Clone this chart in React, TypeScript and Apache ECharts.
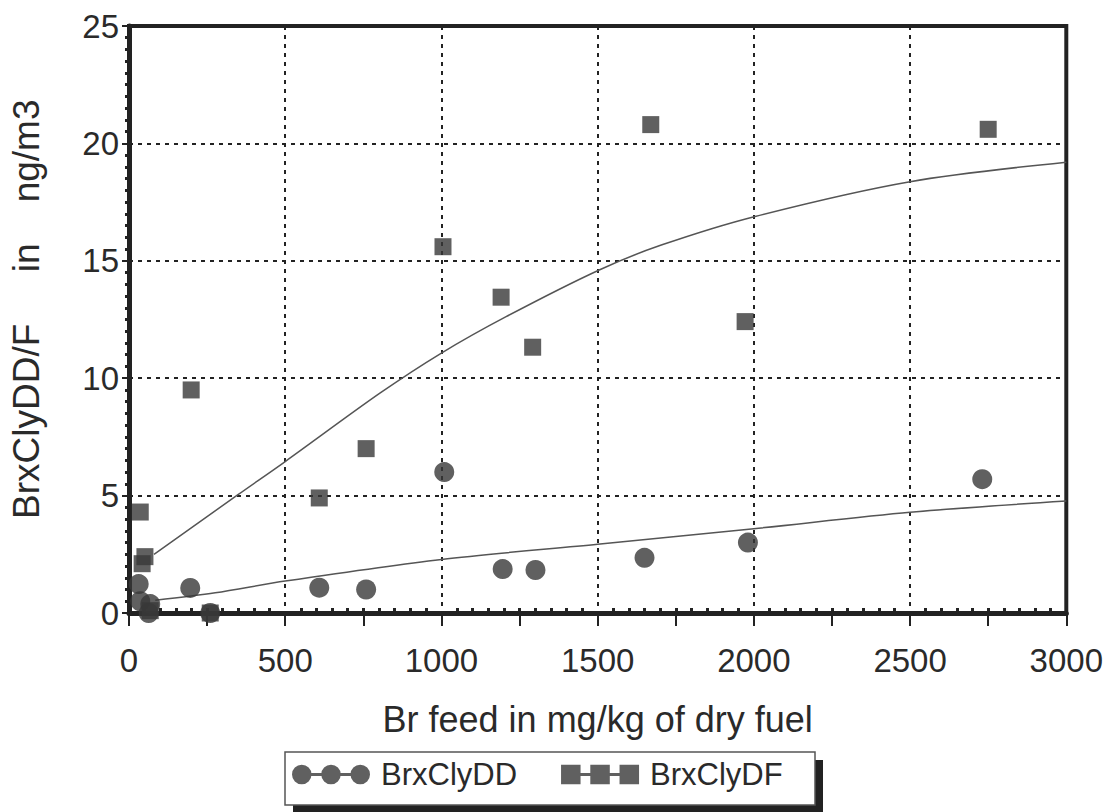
import React, { useEffect, useRef } from "react";
import * as echarts from "echarts";

// BrxClyDD (circles)
const ddX = [31, 36, 63, 68, 196, 260, 609, 759, 1009, 1196, 1301, 1650, 1981, 2731];
const ddY = [1.23, 0.5, 0.0, 0.38, 1.07, 0.0, 1.08, 1.0, 6.0, 1.87, 1.83, 2.35, 3.0, 5.7];
// BrxClyDF (squares)
const dfX = [36, 42, 51, 68, 199, 260, 609, 759, 1005, 1191, 1292, 1670, 1972, 2750];
const dfY = [4.3, 2.1, 2.4, 0.1, 9.5, 0.0, 4.9, 7.0, 15.6, 13.45, 11.32, 20.8, 12.41, 20.6];
// fitted curves
const ddFitX = [84, 276, 500, 1000, 1500, 2000, 2500, 3000];
const ddFitY = [0.54, 0.86, 1.36, 2.28, 2.93, 3.59, 4.29, 4.77];
const dfFitX = [80, 350, 500, 803, 1000, 1207, 1505, 1706, 2004, 2500, 3000];
const dfFitY = [2.5, 5.05, 6.45, 9.36, 11.07, 12.62, 14.61, 15.68, 16.89, 18.37, 19.2];

const xLabel = "Br feed in mg/kg of dry fuel";
const yLabel = "  BrxClyDD/F     in    ng/m3";
const seriesNames = ["BrxClyDD", "BrxClyDF"];

const FONT = "Liberation Sans";
const INK = "#2a2a2a";
const MARK = "#383838";

const circleIcon =
  "path://M0,10A10,10,0,1,1,20,10A10,10,0,1,1,0,10Z M19,8.5L31,8.5L31,11.5L19,11.5Z M30,10A10,10,0,1,1,50,10A10,10,0,1,1,30,10Z M49,8.5L61,8.5L61,11.5L49,11.5Z M60,10A10,10,0,1,1,80,10A10,10,0,1,1,60,10Z";
const squareIcon =
  "path://M0,0H20V20H0Z M19,8.5H31V11.5H19Z M30,0H50V20H30Z M49,8.5H61V11.5H49Z M60,0H80V20H60Z";

const zip = (xs: number[], ys: number[]) => xs.map((x, i) => [x, ys[i]]);

export default function App() {
  const ref = useRef<HTMLDivElement>(null);
  useEffect(() => {
    if (!ref.current) return;
    const chart = echarts.init(ref.current, undefined, { renderer: "svg" });
    const dotted = { color: "#222", width: 2, type: [4, 5] as any };
    chart.setOption({
      animation: false,
      backgroundColor: "#ffffff",
      grid: {
        left: 128,
        right: 37,
        top: 26,
        bottom: 199,
        show: true,
        borderColor: "#222",
        borderWidth: 4,
        backgroundColor: "transparent",
      },
      xAxis: [
        {
          type: "value",
          min: 0,
          max: 3000,
          interval: 250,
          position: "bottom",
          name: xLabel,
          nameLocation: "middle",
          nameGap: 88,
          nameTextStyle: { fontFamily: FONT, fontSize: 36, color: INK },
          axisLine: { show: true, lineStyle: { color: "#222", width: 5 } },
          axisTick: { show: true, length: 13, lineStyle: { color: "#222", width: 2 } },
          axisLabel: {
            fontFamily: FONT,
            fontSize: 33,
            color: INK,
            margin: 31,
            formatter: (v: number) => (v % 500 === 0 ? String(v) : ""),
          },
          splitLine: { show: false },
        },
        {
          type: "value",
          min: 0,
          max: 3000,
          interval: 500,
          position: "bottom",
          axisLine: { show: false },
          axisTick: { show: true, inside: true, length: 0 },
          minorTick: { show: true, splitNumber: 10, length: 5, lineStyle: { color: "#222", width: 3 } },
          axisLabel: { show: false },
          splitLine: { show: true, lineStyle: dotted },
        },
      ],
      yAxis: {
        type: "value",
        min: 0,
        max: 25,
        interval: 5,
        name: yLabel,
        nameLocation: "middle",
        nameGap: 84,
        nameTextStyle: { fontFamily: FONT, fontSize: 37, color: INK },
        axisLine: { show: true, lineStyle: { color: "#222", width: 5 } },
        axisTick: { show: true, length: 7, lineStyle: { color: "#222", width: 2 } },
        minorTick: { show: true, splitNumber: 10, length: 4, lineStyle: { color: "#222", width: 3 } },
        axisLabel: { fontFamily: FONT, fontSize: 33, color: INK, margin: 10 },
        splitLine: { show: true, lineStyle: dotted },
      },
      legend: {
        data: [
          { name: seriesNames[0], icon: circleIcon },
          { name: seriesNames[1], icon: squareIcon },
        ],
        left: 292,
        top: 759,
        padding: 0,
        itemWidth: 78,
        itemHeight: 20,
        itemGap: 44,
        textStyle: { fontFamily: FONT, fontSize: 31, color: INK, padding: [0, 0, 0, 6] },
      },
      graphic: [
        {
          type: "rect",
          z: 0,
          shape: { x: 293, y: 760, width: 530, height: 60 },
          style: { fill: "#222" },
          silent: true,
        },
        {
          type: "rect",
          z: 1,
          shape: { x: 285, y: 752, width: 530, height: 53 },
          style: { fill: "#ffffff", stroke: "#555", lineWidth: 1.5 },
          silent: true,
        },
      ],
      series: [
        {
          name: seriesNames[0],
          type: "scatter",
          symbol: "circle",
          symbolSize: 20,
          itemStyle: { color: MARK },
          data: zip(ddX, ddY),
          z: 5,
        },
        {
          name: seriesNames[1],
          type: "scatter",
          symbol: "rect",
          symbolSize: 17,
          itemStyle: { color: MARK },
          data: zip(dfX, dfY),
          z: 5,
        },
        {
          name: "BrxClyDD fit",
          type: "line",
          smooth: 0.3,
          showSymbol: false,
          lineStyle: { color: "#555", width: 1.5 },
          data: zip(ddFitX, ddFitY),
          z: 4,
        },
        {
          name: "BrxClyDF fit",
          type: "line",
          smooth: 0.3,
          showSymbol: false,
          lineStyle: { color: "#555", width: 1.5 },
          data: zip(dfFitX, dfFitY),
          z: 4,
        },
      ],
    });
    return () => chart.dispose();
  }, []);
  return (
    <div
      ref={ref}
      style={{ position: "absolute", left: 0, top: 0, width: 1106, height: 812 }}
    />
  );
}
